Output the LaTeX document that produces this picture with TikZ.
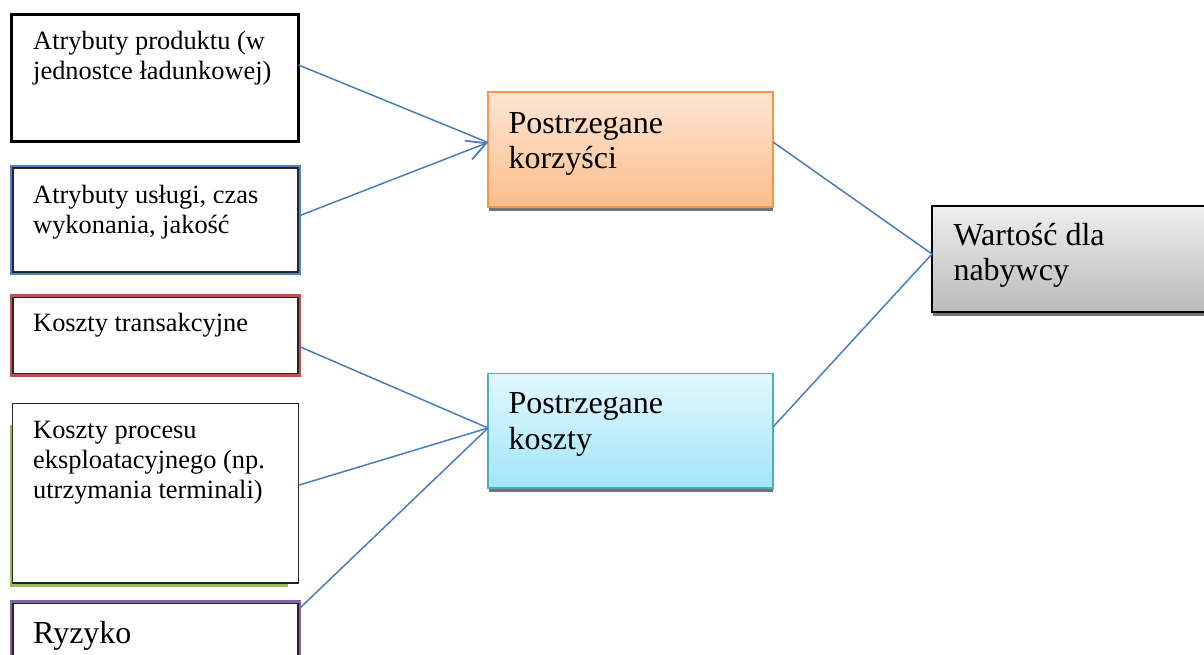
\documentclass[tikz,border=0pt]{standalone}
\usepackage{fontspec}
\setmainfont{Liberation Serif}
\usetikzlibrary{arrows.meta}

\definecolor{linkblue}{HTML}{4A7EBB}
\definecolor{edgeblue}{HTML}{4F81BD}
\definecolor{edgered}{HTML}{C0504D}
\definecolor{edgegreen}{HTML}{9BBB59}
\definecolor{edgepurple}{HTML}{8064A2}
\definecolor{benefitedge}{HTML}{F79646}
\definecolor{benefittop}{HTML}{FDE6D4}
\definecolor{benefitbot}{HTML}{FBBD8B}
\definecolor{costedge}{HTML}{4BACC6}
\definecolor{costtop}{HTML}{E2F8FD}
\definecolor{costbot}{HTML}{A2E5F8}
\definecolor{valuetop}{HTML}{EFEFEF}
\definecolor{valuebot}{HTML}{BABABA}

\tikzset{
  panel/.style={rectangle, inner sep=0pt, outer sep=0pt, anchor=north west},
  smalltext/.style={anchor=base west, inner sep=0pt, font=\fontsize{26.4pt}{30pt}\selectfont},
  bigtext/.style={anchor=base west, inner sep=0pt, font=\fontsize{32pt}{35.5pt}\selectfont},
  link/.style={draw=linkblue, line width=1.5pt},
  shadowstrip/.style={fill=black!55},
}

\begin{document}
\begin{tikzpicture}[x=1pt, y=-1pt]
\useasboundingbox (0,0) rectangle (1204,655);
\clip (0,0) rectangle (1204,655);

% --- factor boxes on the left ---
\node[panel, draw=black, line width=3pt, minimum width=287pt, minimum height=127pt] (b1) at (11.5,14.5) {};
\node[smalltext] (t1) at (33,50) {\parbox[t]{260pt}{Atrybuty produktu (w\\jednostce ładunkowej)}};

\node[panel, draw=edgeblue, line width=2.5pt, minimum width=289pt, minimum height=108pt] (b2) at (11,166) {};
\draw[black!85, line width=1.2pt] ([shift={(2pt,-2pt)}]b2.north west) rectangle ([shift={(-2pt,2pt)}]b2.south east);
\node[smalltext] (t2) at (33,203.3) {\parbox[t]{260pt}{Atrybuty usługi, czas\\wykonania, jakość}};

\node[panel, draw=edgered, line width=2.5pt, minimum width=289pt, minimum height=80pt] (b3) at (11,295.5) {};
\draw[black!85, line width=1.2pt] ([shift={(2pt,-2pt)}]b3.north west) rectangle ([shift={(-2pt,2pt)}]b3.south east);
\node[smalltext] (t3) at (33,331.7) {Koszty transakcyjne};

\fill[edgegreen] (10,425) rectangle (288,587);
\node[panel, draw=black!85, fill=white, line width=1.3pt, minimum width=286pt, minimum height=179.5pt] (b4) at (12.5,403.5) {};
\node[smalltext] (t4) at (33,438.3) {\parbox[t]{260pt}{Koszty procesu\\eksploatacyjnego (np.\\utrzymania terminali)}};

\node[panel, draw=edgepurple, line width=2.5pt, minimum width=289pt, minimum height=90pt] (b5) at (11,601.5) {};
\draw[black!85, line width=1.2pt] ([shift={(2pt,-2pt)}]b5.north west) rectangle ([shift={(-2pt,2pt)}]b5.south east);
\node[bigtext] (t5) at (33,643.3) {Ryzyko};

% --- aggregated perceptions ---
\fill[shadowstrip] (489,207) rectangle (773,210.5);
\node[panel, draw=benefitedge, line width=1.8pt, top color=benefittop, bottom color=benefitbot, minimum width=285pt, minimum height=115pt] (kor) at (488,92) {};
\node[bigtext] (tk) at (508.3,133.3) {\parbox[t]{250pt}{Postrzegane\\korzyści}};

\fill[shadowstrip] (489,488) rectangle (773,491.5);
\node[panel, draw=costedge, line width=1.8pt, top color=costtop, bottom color=costbot, minimum width=285pt, minimum height=114.5pt] (kos) at (488,373.5) {};
\node[bigtext, font=\fontsize{32pt}{36.5pt}\selectfont] (tc) at (508.3,413.3) {\parbox[t]{250pt}{Postrzegane\\koszty}};

% --- resulting value ---
\fill[shadowstrip] (933,312) rectangle (1215,316);
\node[panel, draw=black, line width=2pt, top color=valuetop, bottom color=valuebot, minimum width=290pt, minimum height=106pt] (val) at (932,206) {};
\node[bigtext] (tv) at (953.3,245) {\parbox[t]{240pt}{Wartość dla\\nabywcy}};

% --- connectors ---
\draw[link] ([yshift=13pt]b1.east) -- ([yshift=7pt]kor.west);
\draw[link, -{Straight Barb[length=19pt, width=20pt, line width=1.8pt]}] ([yshift=4.5pt]b2.east) -- ([yshift=7pt]kor.west);
\draw[link] ([yshift=-11.3pt]b3.east) -- ([yshift=2.75pt]kos.west);
\draw[link] ([yshift=8pt]b4.east) -- ([yshift=2.75pt]kos.west);
\draw[link] ([yshift=-6.5pt]b5.north east) -- ([yshift=2.75pt]kos.west);
\draw[link] ([yshift=7.5pt]kor.east) -- ([yshift=5pt]val.west);
\draw[link] ([yshift=3.75pt]kos.east) -- ([yshift=5pt]val.west);
\end{tikzpicture}
\end{document}
